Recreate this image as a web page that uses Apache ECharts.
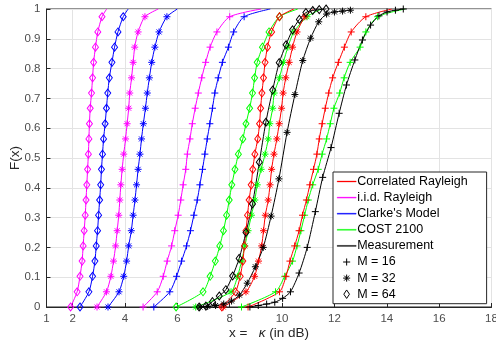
<!DOCTYPE html>
<html>
<head>
<meta charset="utf-8">
<script src="https://cdn.jsdelivr.net/npm/echarts@6/dist/echarts.min.js"></script>
<style>
  html, body { margin: 0; padding: 0; background: #fff; }
  #chart { width: 496px; height: 346px; }
</style>
</head>
<body>
<div id="chart"></div>
<script>
// Eje x: tick labels
const xTicks = [1, 2, 4, 6, 8, 10, 12, 14, 16, 18];

// Niveles de F donde caen los marcadores de las curvas teóricas
const fLevels = [0, 0.051, 0.103, 0.154, 0.205, 0.256, 0.308, 0.359, 0.41, 0.462,
                 0.513, 0.564, 0.615, 0.667, 0.718, 0.769, 0.821, 0.872, 0.923, 0.974];

// i.i.d. Rayleigh
const iidX64 = [1.92, 2.17, 2.28, 2.36, 2.4, 2.44, 2.48, 2.51, 2.54, 2.57, 2.6, 2.62, 2.64, 2.67, 2.72, 2.76, 2.8, 2.87, 2.96, 3.12];
const iidX32 = [2.93, 3.29, 3.46, 3.56, 3.64, 3.7, 3.76, 3.8, 3.84, 3.89, 3.95, 4.02, 4.08, 4.14, 4.18, 4.25, 4.31, 4.37, 4.5, 4.76];
const iidX16 = [4.69, 5.23, 5.46, 5.61, 5.78, 5.9, 6.03, 6.13, 6.22, 6.32, 6.38, 6.48, 6.57, 6.68, 6.8, 6.93, 7.08, 7.25, 7.51, 8.0];
const iidEnd = [3.3, 5.27, 9.2];   // x donde F llega a 1 (M = 64, 32, 16)

// Clarke's Model
const clarkeX64 = [2.28, 2.62, 2.76, 2.85, 2.9, 2.95, 2.99, 3.03, 3.07, 3.1, 3.14, 3.18, 3.24, 3.29, 3.34, 3.4, 3.5, 3.6, 3.73, 3.93];
const clarkeX32 = [3.35, 3.77, 3.95, 4.06, 4.14, 4.24, 4.31, 4.38, 4.44, 4.5, 4.57, 4.63, 4.7, 4.78, 4.85, 4.93, 5.02, 5.14, 5.3, 5.6];
const clarkeX16 = [5.1, 5.71, 5.97, 6.16, 6.35, 6.5, 6.63, 6.76, 6.86, 6.96, 7.05, 7.14, 7.24, 7.34, 7.43, 7.56, 7.72, 7.95, 8.15, 8.55];
const clarkeEnd = [4.12, 6.0, 9.55];

// COST 2100
const costX64 = [5.95, 6.98, 7.25, 7.45, 7.62, 7.76, 7.88, 7.98, 8.08, 8.2, 8.33, 8.5, 8.62, 8.76, 8.87, 8.95, 9.05, 9.25, 9.5, 9.9];
const costX32 = [6.7, 8.05, 8.3, 8.45, 8.58, 8.7, 8.83, 8.96, 9.05, 9.2, 9.35, 9.47, 9.53, 9.64, 9.7, 9.9, 10.05, 10.22, 10.45, 10.95];
const costX16 = [8.45, 9.75, 10.1, 10.4, 10.57, 10.72, 10.86, 11.0, 11.17, 11.38, 11.53, 11.7, 11.84, 11.98, 12.2, 12.37, 12.6, 12.98, 13.2, 13.65];
const costEnd = [10.6, 11.5, 14.7];

// Correlated Rayleigh
const corrX64 = [7.7, 8.22, 8.4, 8.5, 8.56, 8.62, 8.68, 8.74, 8.82, 8.88, 8.96, 9.07, 9.14, 9.18, 9.23, 9.29, 9.35, 9.44, 9.6, 9.9];
const corrX32 = [7.75, 8.62, 8.95, 9.1, 9.22, 9.29, 9.36, 9.47, 9.54, 9.6, 9.69, 9.8, 9.89, 9.98, 10.04, 10.14, 10.27, 10.4, 10.57, 10.87];
const corrX16 = [8.7, 9.9, 10.15, 10.3, 10.48, 10.65, 10.78, 10.93, 11.06, 11.2, 11.33, 11.42, 11.53, 11.65, 11.78, 11.93, 12.15, 12.38, 12.64, 13.2];
const corrEnd = [10.45, 11.2, 14.2];

// Measurement (marcadores a paso fijo en x)
const measX64 = [6.83, 7.09, 7.34, 7.6, 7.85, 8.11, 8.36, 8.62, 8.87, 9.13, 9.38, 9.64, 9.89, 10.15, 10.4, 10.66, 10.91, 11.17, 11.42, 11.68];
const measF64 = [0, 0.003, 0.018, 0.037, 0.058, 0.104, 0.163, 0.25, 0.346, 0.486, 0.62, 0.728, 0.82, 0.88, 0.93, 0.965, 0.988, 0.995, 0.998, 1.0];
const measX32 = [6.86, 7.16, 7.46, 7.77, 8.07, 8.37, 8.67, 8.98, 9.28, 9.58, 9.88, 10.19, 10.49, 10.79, 11.09, 11.4, 11.7, 12.0, 12.31, 12.61];
const measF32 = [0, 0.002, 0.005, 0.01, 0.02, 0.04, 0.08, 0.135, 0.2, 0.305, 0.43, 0.586, 0.713, 0.827, 0.902, 0.957, 0.983, 0.99, 0.993, 0.996];
const measX16 = [8.77, 9.09, 9.41, 9.72, 10.02, 10.32, 10.65, 10.96, 11.27, 11.55, 11.87, 12.18, 12.46, 12.78, 13.07, 13.38, 13.7, 14.01, 14.33, 14.63];
const measF16 = [0, 0.005, 0.01, 0.016, 0.029, 0.051, 0.114, 0.2, 0.32, 0.435, 0.535, 0.65, 0.745, 0.829, 0.896, 0.946, 0.977, 0.99, 0.996, 1.0];

const FONT = '"Liberation Sans", Arial, sans-serif';

// Marcadores estilo MATLAB
const PLUS = 'path://M0,-1L0,1M-1,0L1,0';
const STAR = 'path://M0,-1L0,1M-1,0L1,0M-0.71,-0.71L0.71,0.71M-0.71,0.71L0.71,-0.71';
const markers = {
    16: { symbol: PLUS, size: 7 },
    32: { symbol: STAR, size: 7 },
    64: { symbol: 'diamond', size: [6, 8] }
};
// iconos de la leyenda (los puntos M extra fijan la caja para que no se estiren)
const LINE_ICON = 'path://M0,0M19,12M0,5.5L19,5.5L19,6.5L0,6.5Z';
const legendIcons = {
    16: 'path://M-1.7,-1.7M1.7,1.7M0,-1L0,1M-1,0L1,0',
    32: 'path://M-1.7,-1.7M1.7,1.7M0,-1L0,1M-1,0L1,0M-0.71,-0.71L0.71,0.71M-0.71,0.71L0.71,-0.71',
    64: 'path://M-1.7,-1.7M1.7,1.7M0,-1.2L0.8,0L0,1.2L-0.8,0Z'
};

const colors = {
    corr: '#ff0000',
    iid: '#ff00ff',
    clarke: '#0000ff',
    cost: '#00ff00',
    meas: '#000000'
};

function curve(color, m, xs, fs, endX) {
    const data = xs.map((x, i) => [x, fs[i]]);
    if (endX != null) {
        data.push({ value: [endX, 1], symbol: 'none' });
    }
    return {
        type: 'line',
        data: data,
        smooth: 0.25,
        symbol: markers[m].symbol,
        symbolSize: markers[m].size,
        showAllSymbol: true,
        silent: true,
        z: 3,
        lineStyle: { color: color, width: 1 },
        itemStyle: { color: 'rgba(0,0,0,0)', borderColor: color, borderWidth: 1 },
        emphasis: { disabled: true }
    };
}

const series = [];
const legendData = [];

// Series fantasma solo para la leyenda
const legendLines = [
    ['Correlated Rayleigh', colors.corr],
    ['i.i.d. Rayleigh', colors.iid],
    ["Clarke's Model", colors.clarke],
    ['COST 2100', colors.cost],
    ['Measurement', colors.meas]
];
legendLines.forEach(([name, c]) => {
    series.push({
        name: name, type: 'line', data: [], symbol: 'none',
        lineStyle: { color: c, width: 1 },
        itemStyle: { color: c, borderColor: c }
    });
    legendData.push({ name: name, icon: LINE_ICON, itemStyle: { color: c, borderColor: c, borderWidth: 0.3 } });
});
[['M = 16', 16], ['M = 32', 32], ['M = 64', 64]].forEach(([name, m]) => {
    series.push({
        name: name, type: 'line', data: [],
        symbol: markers[m].symbol,
        lineStyle: { color: 'rgba(0,0,0,0)', width: 0 },
        itemStyle: { color: 'rgba(0,0,0,0)', borderColor: '#000', borderWidth: 1 }
    });
    legendData.push({
        name: name, icon: legendIcons[m],
        itemStyle: { color: 'rgba(0,0,0,0)', borderColor: '#000', borderWidth: 1 }
    });
});

const mList = [64, 32, 16];
[[colors.iid, [iidX64, iidX32, iidX16], iidEnd],
 [colors.clarke, [clarkeX64, clarkeX32, clarkeX16], clarkeEnd],
 [colors.cost, [costX64, costX32, costX16], costEnd],
 [colors.corr, [corrX64, corrX32, corrX16], corrEnd]].forEach(([c, xsList, ends]) => {
    xsList.forEach((xs, k) => series.push(curve(c, mList[k], xs, fLevels, ends[k])));
});
series.push(curve(colors.meas, 64, measX64, measF64, null));
series.push(curve(colors.meas, 32, measX32, measF32, null));
series.push(curve(colors.meas, 16, measX16, measF16, null));

const myChart = echarts.init(document.getElementById('chart'), null, { renderer: 'canvas' });

const option = {
    animation: false,
    backgroundColor: '#fff',
    textStyle: { fontFamily: FONT },
    grid: {
        left: 46.5, right: 4.5, top: 9, bottom: 39,
        containLabel: false,
        outerBoundsMode: 'none',
        show: true, borderColor: '#262626', borderWidth: 1, backgroundColor: 'transparent'
    },
    legend: {
        orient: 'vertical',
        left: 333, top: 172,
        itemWidth: 19, itemHeight: 12, itemGap: 3.1,
        padding: [3, 19, 3, 4],
        backgroundColor: '#fff',
        borderColor: '#262626', borderWidth: 1, borderRadius: 0,
        selectedMode: false,
        textStyle: { fontSize: 12.5, lineHeight: 12, color: '#000', fontFamily: FONT, padding: [0, 0, 0, -4] },
        data: legendData
    },
    xAxis: {
        type: 'value',
        min: 1, max: 18,
        name: '{n|x =   }{k|κ}{n| (in dB)}',
        nameLocation: 'middle',
        nameGap: 19,
        nameMoveOverlap: false,
        nameTextStyle: {
            rich: {
                n: { fontSize: 13.5, color: '#262626', fontFamily: FONT },
                k: { fontSize: 13.5, color: '#262626', fontFamily: FONT, fontStyle: 'italic' }
            }
        },
        axisLine: { lineStyle: { color: '#262626', width: 1 } },
        axisTick: { inside: true, length: 4, customValues: xTicks, lineStyle: { color: '#262626' } },
        axisLabel: { customValues: xTicks, color: '#4d4d4d', fontSize: 11.5, margin: 6, fontFamily: FONT },
        splitLine: { show: true, lineStyle: { color: '#e3e3e3', width: 1 } }
    },
    yAxis: {
        type: 'value',
        min: 0, max: 1, interval: 0.1,
        name: 'F(x)',
        nameLocation: 'middle',
        nameRotate: 90,
        nameGap: 24,
        nameMoveOverlap: false,
        nameTextStyle: { fontSize: 13.5, color: '#262626', fontFamily: FONT },
        axisLine: { show: true, lineStyle: { color: '#262626', width: 1 } },
        axisTick: { show: true, inside: true, length: 4, lineStyle: { color: '#262626' } },
        axisLabel: { color: '#4d4d4d', fontSize: 11.5, margin: 6, fontFamily: FONT },
        splitLine: { show: true, lineStyle: { color: '#e3e3e3', width: 1 } }
    },
    series: series
};

myChart.setOption(option);
</script>
</body>
</html>
